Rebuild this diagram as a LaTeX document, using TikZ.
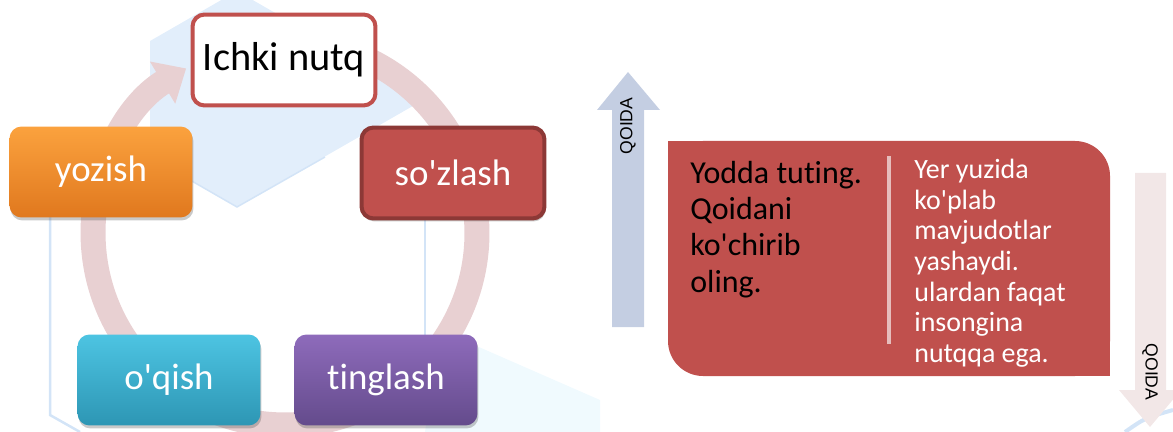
\documentclass[tikz,border=0pt]{standalone}
\usepackage{fontspec}
\setmainfont{Carlito}
\newfontfamily\calfont{Carlito}[Ligatures=CommonOff]
\newfontfamily\arialfont{Liberation Sans}
\usetikzlibrary{arrows.meta,shadows,calc}
\definecolor{ringpink}{HTML}{E8D0D2}
\definecolor{qred}{HTML}{C0504D}
\definecolor{qdarkred}{HTML}{8C3836}
\definecolor{qorangetop}{HTML}{FBA23E}
\definecolor{qorangebot}{HTML}{E0781E}
\definecolor{qcyantop}{HTML}{4DC4E2}
\definecolor{qcyanbot}{HTML}{2D96B4}
\definecolor{qpurpletop}{HTML}{8E6BBB}
\definecolor{qpurplebot}{HTML}{644B8C}
\definecolor{upblue}{HTML}{C4CEE2}
\definecolor{downpink}{HTML}{F2E7E7}
\definecolor{wmblue}{HTML}{E2EEFB}
\definecolor{wmline}{HTML}{D3E4F7}
\definecolor{divpink}{HTML}{E6BDBC}
\tikzset{
  cyc/.style={rounded corners=0.24cm, minimum width=3.66cm, minimum height=1.82cm,
    font=\calfont\fontsize{21}{24}\selectfont, text=white, inner sep=0pt},
  bevel/.style={drop shadow={shadow xshift=0.02cm, shadow yshift=-0.06cm, opacity=0.3, fill=black!70}},
  qlabel/.style={font=\arialfont\fontsize{10}{12}\selectfont, inner sep=0pt}
}
\begin{document}
\begin{tikzpicture}[x=0.02cm,y=-0.02cm]
\useasboundingbox (0,0) rectangle (1173,432);
% faint cube in the background
\fill[wmblue] (150,41) -- (237,-9) -- (425,99) -- (237,207) -- (150,157) -- cycle;
\draw[wmline, line width=0.05cm] (50,215) -- (50,415) -- (80,432);
\draw[wmline, line width=0.05cm] (425,220) -- (425,335);
\draw[wmline, line width=0.03cm] (150,157) -- (237,207) -- (325,157);
\fill[cyan!6] (440,330) -- (600,400) -- (600,432) -- (425,432) -- cycle;
\draw[wmline, line width=0.08cm] (1125,432) .. controls (1145,418) .. (1173,410);
% ring
\coordinate (C) at (285,233);
\draw[ringpink, line width=0.5cm, -{Triangle[width=0.95cm,length=0.55cm]}]
  ($(C)+(95:3.84cm)$) arc[start angle=95, end angle=-239, radius=3.84cm];
% cycle nodes
\node[cyc, fill=white, draw=qred, line width=0.08cm, text=black, font=\calfont\fontsize{23}{26}\selectfont] (ichki) at (284,60) {Ichki nutq};
\node[cyc, bevel, fill=qred, draw=qdarkred, line width=0.08cm] (sozlash) at (453,173) {so'zlash};
\node[cyc, bevel, top color=qorangetop, bottom color=qorangebot] (yozish) at (101,172) {yozish};
\node[cyc, bevel, top color=qcyantop, bottom color=qcyanbot] (oqish) at (169,380) {o'qish};
\node[cyc, bevel, top color=qpurpletop, bottom color=qpurplebot] (tinglash) at (386,380) {tinglash};
% arrows with QOIDA
\fill[upblue] (612,327) -- (612,110) -- (597,110) -- (628,72) -- (660,110) -- (644,110) -- (644,327) -- cycle;
\node[qlabel, rotate=90] (qup) at (628,126) {QOIDA};
\fill[downpink] (1135,173) -- (1135,390) -- (1119,390) -- (1150,427) -- (1181,390) -- (1166,390) -- (1166,173) -- cycle;
\node[qlabel, rotate=-90] (qdown) at (1150,372) {QOIDA};
% rule box
\fill[qred, rounded corners=0.7cm] (668,141) rectangle (1110,376);
\fill[qred] (668,141) rectangle (740,210);
\fill[qred] (1040,300) rectangle (1110,376);
\draw[divpink, line width=0.08cm] (889,156) -- (889,344);
\node[anchor=north west, inner sep=0pt, align=left, font=\calfont\fontsize{18.2}{20.6}\selectfont] (rule) at (690,161)
  {Yodda tuting.\\Qoidani\\ko'chirib\\oling.};
\node[anchor=north west, inner sep=0pt, align=left, text=white, font=\calfont\fontsize{15.9}{17.4}\selectfont] (fact) at (914,159)
  {Yer yuzida\\ko'plab\\mavjudotlar\\yashaydi.\\ulardan faqat\\insongina\\nutqqa ega.};
\end{tikzpicture}
\end{document}
